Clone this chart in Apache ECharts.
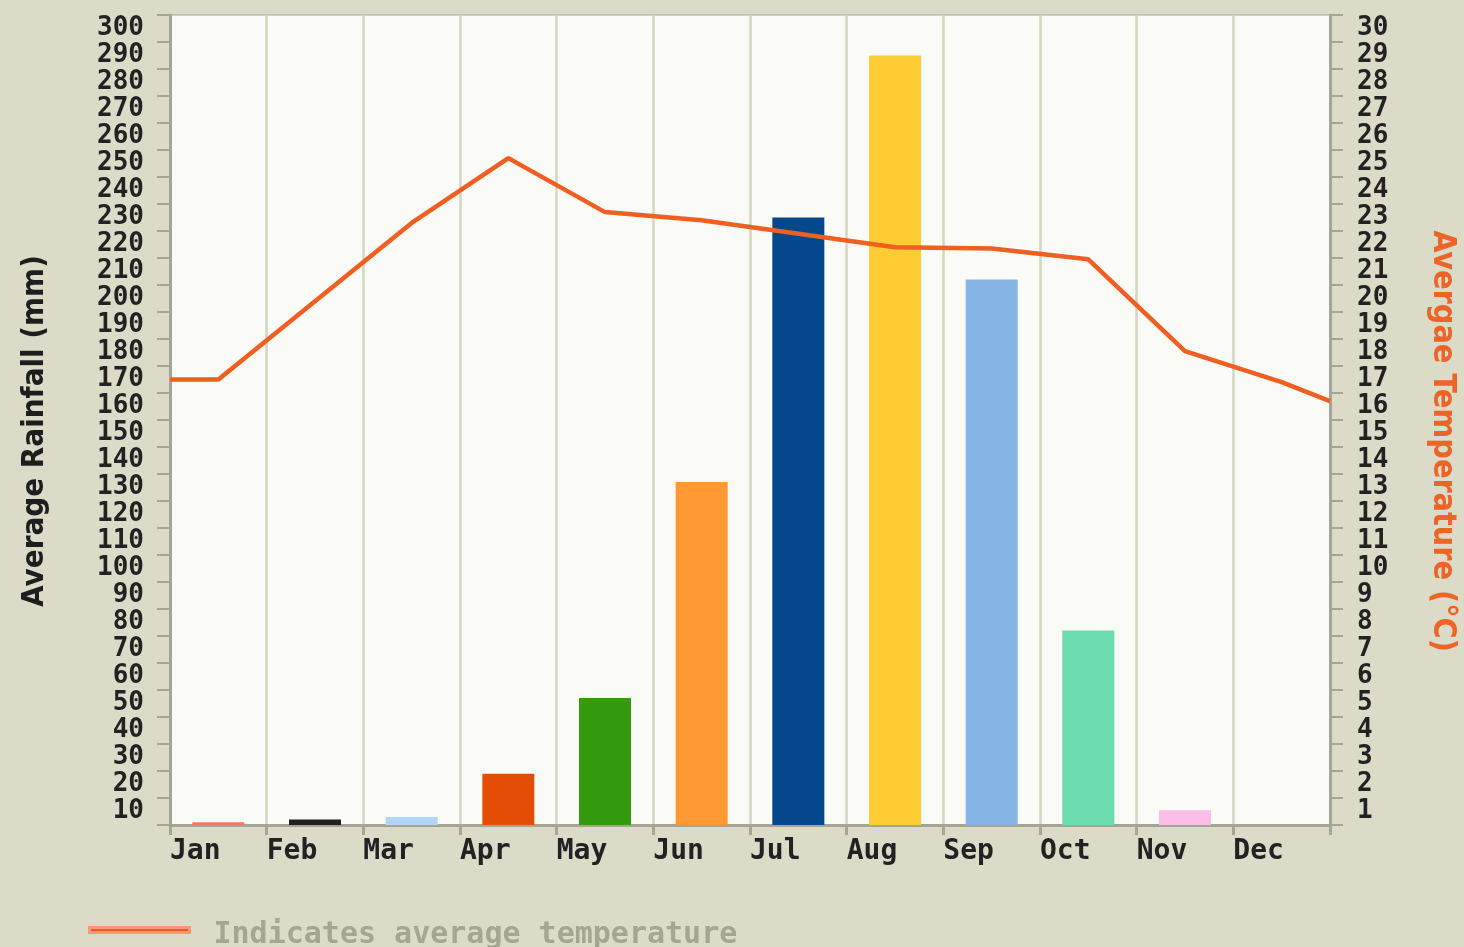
<!DOCTYPE html>
<html>
<head>
<meta charset="utf-8">
<title>Average Rainfall and Temperature</title>
<script src="https://cdn.jsdelivr.net/npm/echarts@6/dist/echarts.min.js"></script>
<style>
  html, body { margin: 0; padding: 0; background: #dcdbc7; }
  #chart { width: 1464px; height: 947px; }
</style>
</head>
<body>
<div id="chart"></div>
<script>
// data
var months = ['Jan', 'Feb', 'Mar', 'Apr', 'May', 'Jun', 'Jul', 'Aug', 'Sep', 'Oct', 'Nov', 'Dec'];
var rainfall = [1, 2, 3, 19, 47, 127, 225, 285, 202, 72, 5.5, 0];
var temperature = [16.5, 19.4, 22.3, 24.7, 22.7, 22.4, 21.9, 21.4, 21.35, 20.95, 17.55, 16.4];
// the line runs on to both edges of the plot
var tempLeftEdge = 16.5;
var tempRightEdge = 15.7;

var barColors = ['#ef7b5c', '#202020', '#b3d6f7', '#e34e04', '#349b0e', '#fe9933',
                 '#04478d', '#ffcc33', '#86b4e4', '#6adcb0', '#fdbde9', '#cccccc'];

var axisGrey = '#a5a595';
var labelFont = "'DejaVu Sans Mono', monospace";
var titleFont = "'Liberation Sans Narrow', 'DejaVu Sans Condensed', sans-serif";

var chart = echarts.init(document.getElementById('chart'));

var barData = rainfall.map(function (v, i) {
    return { value: [i + 0.5, v], itemStyle: { color: barColors[i] } };
});
var lineData = [[0, tempLeftEdge]];
temperature.forEach(function (t, i) { lineData.push([i + 0.5, t]); });
lineData.push([months.length, tempRightEdge]);

// y labels hang just below their tick, like the original
function yLabel(margin) {
    return {
        margin: margin,
        showMaxLabel: true,
        hideOverlap: false,
        color: '#222',
        fontFamily: labelFont,
        fontWeight: 'bold',
        fontSize: 26,
        lineHeight: 26,
        verticalAlign: 'top',
        verticalAlignMaxLabel: 'top',
        formatter: function (v) { return v === 0 ? '' : String(v); }
    };
}

var option = {
    animation: false,
    backgroundColor: '#dcdbc7',
    grid: {
        left: 170, right: 134, top: 15, bottom: 122,
        outerBoundsMode: 'none',
        show: true,
        backgroundColor: '#fafaf6',
        borderColor: axisGrey,
        borderWidth: 1
    },
    legend: {
        left: 88,
        top: 920,
        padding: 0,
        data: ['Indicates average temperature'],
        icon: 'rect',
        itemWidth: 100,
        itemHeight: 5,
        itemStyle: { color: '#ec5a25', borderColor: '#f59a72', borderWidth: 3 },
        formatter: function (name) { return '{t|' + name + '}'; },
        textStyle: {
            rich: {
                t: {
                    color: '#a5a592',
                    fontFamily: labelFont,
                    fontWeight: 'bold',
                    fontSize: 30,
                    padding: [10, 0, 0, 19]
                }
            }
        }
    },
    xAxis: {
        type: 'value',
        min: 0,
        max: 12,
        interval: 1,
        axisLine: { show: true, lineStyle: { color: axisGrey, width: 3 } },
        axisTick: { show: true, length: 10, lineStyle: { color: axisGrey, width: 3 } },
        splitLine: { show: true, lineStyle: { color: '#d5d5c3', width: 2.5 } },
        axisLabel: {
            align: 'left',
            margin: 13,
            color: '#222',
            fontFamily: labelFont,
            fontWeight: 'bold',
            fontSize: 28,
            formatter: function (v) { return months[v] || ''; }
        }
    },
    yAxis: [{
        type: 'value',
        min: 0,
        max: 300,
        interval: 10,
        name: 'Average Rainfall (mm)',
        nameLocation: 'middle',
        nameGap: 120,
        nameTextStyle: {
            color: '#1e1e1e',
            fontFamily: titleFont,
            fontWeight: 'bold',
            fontSize: 31,
            padding: [0, 22, 0, 0]
        },
        axisLine: { show: true, lineStyle: { color: axisGrey, width: 3 } },
        axisTick: { show: true, length: 13, lineStyle: { color: axisGrey, width: 2 } },
        splitLine: { show: false },
        axisLabel: yLabel(26)
    }, {
        type: 'value',
        min: 0,
        max: 30,
        interval: 1,
        position: 'right',
        name: 'Avergae Temperature (°C)',
        nameLocation: 'middle',
        nameRotate: -90,
        nameGap: 96,
        nameTextStyle: {
            color: '#ec6428',
            fontFamily: titleFont,
            fontWeight: 'bold',
            fontSize: 32,
            padding: [0, 0, 0, 42]
        },
        axisLine: { show: true, lineStyle: { color: axisGrey, width: 3 } },
        axisTick: { show: true, length: 13, lineStyle: { color: axisGrey, width: 2 } },
        splitLine: { show: false },
        axisLabel: yLabel(27)
    }],
    series: [{
        name: 'Average Rainfall',
        type: 'bar',
        barWidth: 52,
        yAxisIndex: 0,
        data: barData
    }, {
        name: 'Indicates average temperature',
        type: 'line',
        yAxisIndex: 1,
        symbol: 'none',
        z: 5,
        lineStyle: { color: '#ef5f22', width: 4.5 },
        itemStyle: { color: '#ef5f22' },
        data: lineData
    }]
};

chart.setOption(option);
</script>
</body>
</html>
